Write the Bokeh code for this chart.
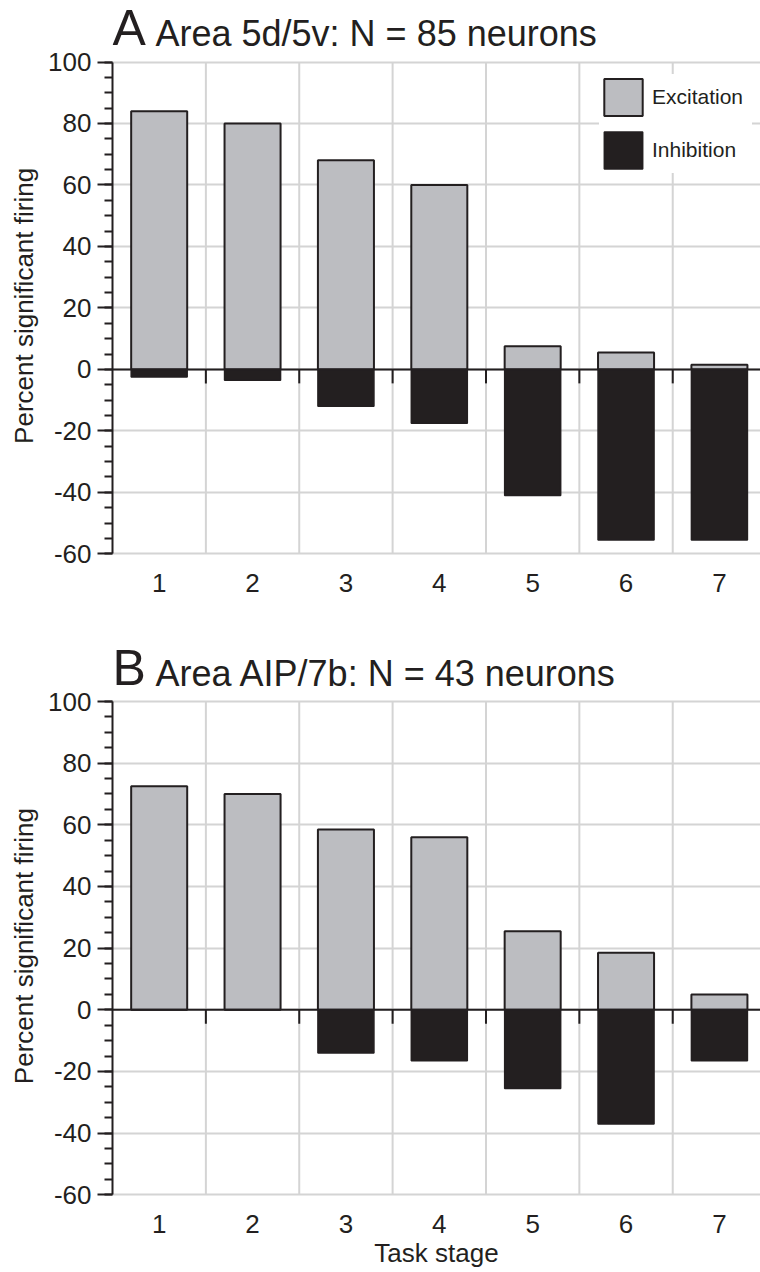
import numpy as np
from bokeh.plotting import figure
from bokeh.models import (Range1d, FixedTicker, Span, Legend, LegendItem,
                          ColumnDataSource, Title)
from bokeh.layouts import column
from bokeh.embed import file_html
from bokeh.resources import INLINE
from bokeh.core.properties import value

# ---------------- data ----------------
stages = [1, 2, 3, 4, 5, 6, 7]
stage_labels = ["1", "2", "3", "4", "5", "6", "7"]

a_excitation = [84, 80, 68, 60, 7.5, 5.5, 1.5]
a_inhibition = [-2.5, -3.5, -12, -17.5, -41, -55.5, -55.5]

b_excitation = [72.5, 70, 58.5, 56, 25.5, 18.5, 5]
b_inhibition = [0, 0, -14, -16.5, -25.5, -37, -16.5]

y_ticks = [-60, -40, -20, 0, 20, 40, 60, 80, 100]
y_minor = list(range(-60, 101, 5))

a_letter, a_title = "A", "Area 5d/5v: N = 85 neurons"
b_letter, b_title = "B", "Area AIP/7b: N = 43 neurons"
y_label = "Percent significant firing"
x_label = "Task stage"
legend_labels = ["Excitation", "Inhibition"]

# ---------------- style ----------------
FONT = "Liberation Sans"
INK = "#231f20"
GRAY = "#bcbdc1"
GRID = "#d4d4d4"
W = 760
LEFT = 112
Y_MIN, Y_MAX = -60, 100
X_START, X_END = 0.5, 7.44
YLABEL_SIZE = 26
YLABEL_LEN = 272  # approx rendered length of the y label at YLABEL_SIZE


def panel(letter, title, exc, inh, fig_h, frame_h, top_px, bottom_px,
          letter_px, title_px, show_legend, xlab):
    ppu = (frame_h - top_px - bottom_px) / (Y_MAX - Y_MIN)
    ppx = (W - LEFT) / (X_END - X_START)
    y_lo = Y_MIN - bottom_px / ppu
    y_hi = Y_MAX + top_px / ppu
    p = figure(width=W, height=fig_h, output_backend="svg", toolbar_location=None,
               x_range=Range1d(X_START, X_END), y_range=Range1d(y_lo, y_hi),
               min_border_left=LEFT, min_border_right=0,
               min_border_top=0, min_border_bottom=fig_h - frame_h)
    p.outline_line_color = None
    p.background_fill_color = "white"
    p.border_fill_color = "white"

    n = len(stages)
    bounds = [s + 0.5 for s in range(0, n + 1)]

    # grids: horizontal via Grid, vertical drawn only over the value span
    p.xgrid.visible = False
    p.ygrid.ticker = FixedTicker(ticks=y_ticks)
    p.ygrid.grid_line_color = GRID
    p.ygrid.grid_line_width = 2
    vb = bounds[1:]
    p.segment(x0=vb, y0=[Y_MIN] * len(vb), x1=vb, y1=[Y_MAX] * len(vb),
              line_color=GRID, line_width=2, level="underlay")

    # y axis
    ya = p.yaxis[0]
    ya.ticker = FixedTicker(ticks=y_ticks, minor_ticks=y_minor)
    ya.bounds = (Y_MIN, Y_MAX)
    ya.major_label_overrides = {t: str(t) for t in y_ticks}
    ya.axis_line_color = INK
    ya.axis_line_width = 2
    ya.major_tick_line_color = INK
    ya.major_tick_line_width = 2
    ya.major_tick_out = 15
    ya.major_tick_in = 0
    ya.minor_tick_line_color = INK
    ya.minor_tick_line_width = 2
    ya.minor_tick_out = 8
    ya.minor_tick_in = 0
    ya.major_label_text_font = FONT
    ya.major_label_text_font_size = "26px"
    ya.major_label_text_color = INK
    ya.major_label_standoff = 6

    # y label as a left-side title, centred on the value span (not the frame)
    span_px = frame_h - top_px - bottom_px
    start_from_bottom = bottom_px + span_px / 2.0 - YLABEL_LEN / 2.0
    p.add_layout(Title(text=y_label, align="left", offset=start_from_bottom,
                       text_font=FONT, text_font_size=f"{YLABEL_SIZE}px",
                       text_font_style="normal", text_color=INK,
                       standoff=13), "left")

    # x axis
    xa = p.xaxis[0]
    xa.ticker = FixedTicker(ticks=stages)
    xa.major_label_overrides = {s: l for s, l in zip(stages, stage_labels)}
    xa.axis_line_color = None
    xa.major_tick_line_color = None
    xa.minor_tick_line_color = None
    xa.major_label_text_font = FONT
    xa.major_label_text_font_size = "26px"
    xa.major_label_text_color = INK
    xa.major_label_standoff = 12
    if xlab:
        xa.axis_label = xlab
        xa.axis_label_text_font = FONT
        xa.axis_label_text_font_size = "26px"
        xa.axis_label_text_font_style = "normal"
        xa.axis_label_text_color = INK
        xa.axis_label_standoff = 2

    src = ColumnDataSource(dict(x=stages, exc=exc, inh=inh))
    r_exc = p.vbar(x="x", top="exc", bottom=0, width=0.6, source=src,
                   fill_color=GRAY, line_color=INK, line_width=2)
    r_inh = p.vbar(x="x", top=0, bottom="inh", width=0.6, source=src,
                   fill_color=INK, line_color=INK, line_width=1.5)

    # small ticks hanging below the zero line at stage boundaries
    tick_len = 14 / ppu
    inner = bounds[1:-1]
    p.segment(x0=inner, y0=[0] * len(inner), x1=inner, y1=[-tick_len] * len(inner),
              line_color=INK, line_width=2)

    p.add_layout(Span(location=0, dimension="width", line_color=INK, line_width=2))

    # panel titles (inside the extended frame, above the value span)
    p.text(x=[X_START], y=[Y_MAX + letter_px / ppu], text=[letter],
           text_font=value(FONT), text_font_size="50px", text_color=INK,
           text_baseline="alphabetic", text_align="left")
    p.text(x=[X_START + 43.0 / ppx], y=[Y_MAX + title_px / ppu], text=[title],
           text_font=value(FONT), text_font_size="36px", text_color=INK,
           text_baseline="alphabetic", text_align="left")

    if show_legend:
        lg = Legend(items=[LegendItem(label=legend_labels[0], renderers=[r_exc]),
                           LegendItem(label=legend_labels[1], renderers=[r_inh])],
                    location=(487, frame_h - 173),
                    margin=0, padding=11, spacing=7,
                    glyph_width=48, glyph_height=46, label_standoff=5,
                    label_width=100,
                    label_text_font=FONT, label_text_font_size="21px",
                    label_text_color=INK, border_line_color=None,
                    background_fill_color="white", background_fill_alpha=1.0)
        p.add_layout(lg)
    return p


pa = panel(a_letter, a_title, a_excitation, a_inhibition,
           fig_h=640, frame_h=555, top_px=61.5, bottom_px=1.7,
           letter_px=34.0, title_px=28.5, show_legend=True, xlab=None)
pb = panel(b_letter, b_title, b_excitation, b_inhibition,
           fig_h=632, frame_h=556, top_px=61.0, bottom_px=1.7,
           letter_px=33.5, title_px=28.5, show_legend=False, xlab=x_label)

layout = column(pa, pb, spacing=0)
open("out.html", "w").write(file_html(layout, INLINE))
